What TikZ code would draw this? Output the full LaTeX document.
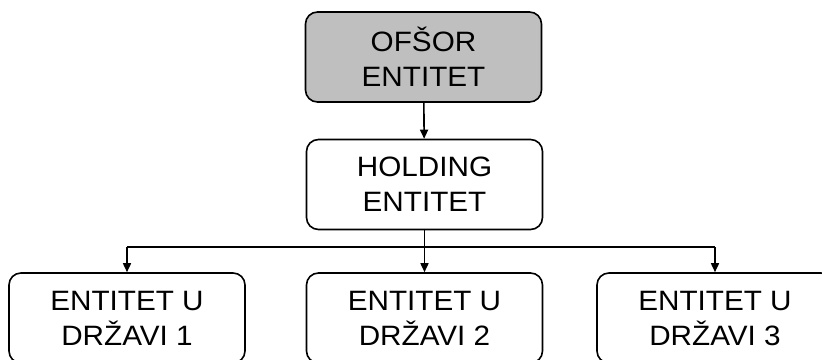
\documentclass[tikz,border=0pt]{standalone}
\usepackage{fontspec}
\setmainfont[FakeStretch=1.06]{Liberation Sans}
\usetikzlibrary{arrows.meta}

\begin{document}
\begin{tikzpicture}[x=1pt, y=-1pt,
        entity/.style={draw, line width=1.6pt, rounded corners=12pt, align=center,
            minimum width=236pt, minimum height=90pt, inner sep=0pt,
            font=\fontsize{28}{35}\selectfont},
        link/.style={line width=1.6pt, -{Triangle[length=9pt, width=8pt]}}]
        \useasboundingbox (0,0) rectangle (822,359);
        \clip (0,0) rectangle (822,359);

        \node[entity, fill=gray!50] (offshore) at (423.5,57) {OFŠOR\\ENTITET};
        \node[entity] (holding) at (424.5,184.5) {HOLDING\\ENTITET};

        \node[entity] (state1) at (127,318) {ENTITET U\\DRŽAVI 1};
        \node[entity] (state2) at (424.5,318) {ENTITET U\\DRŽAVI 2};
        \node[entity] (state3) at (715,318) {ENTITET U\\DRŽAVI 3};

        \coordinate (fork) at (424.5,247);

        \draw[link] (offshore) -- (holding);
        \draw[link] (holding) -- (state2);
        \draw[line width=1.6pt] (fork -| state1.north) -- (fork -| state3.north);
        \draw[link] (fork -| state1.north) -- (state1.north);
        \draw[link] (fork -| state3.north) -- (state3.north);

    \end{tikzpicture}
\end{document}
